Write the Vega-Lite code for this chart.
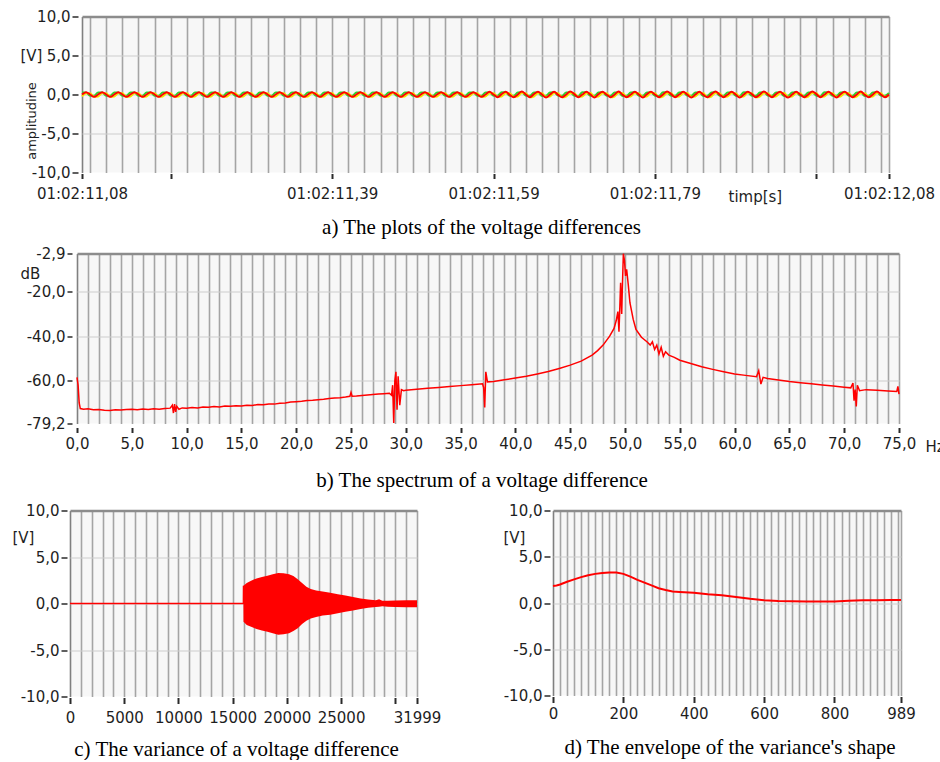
{
"$schema": "https://vega.github.io/schema/vega-lite/v6.json",
"padding": {"left": 12, "top": 9.5, "right": 0, "bottom": 0},
"background": "white",
"bounds": "flush",
"spacing": 0,
"config": {
  "view": {"stroke": null, "fill": "#f7f7f7"},
  "axis": {"labelFont": "DejaVu Sans", "labelFontSize": 15, "labelColor": "#1e1e1e", "titleFont": "DejaVu Sans", "titleFontSize": 15, "titleFontWeight": "normal", "titleColor": "#1e1e1e", "domain": false, "tickColor": "#2a2a2a", "labelOverlap": false, "labelFlush": false, "labelBound": false, "grid": true},
  "title": {"font": "Liberation Serif", "fontSize": 21, "fontWeight": "normal", "color": "#000000", "orient": "bottom", "anchor": "middle", "frame": "group"}
},
"vconcat": [
 {"hconcat": [
  {"width": 12, "height": 1, "data": {"values": []}, "mark": "point", "view": {"fill": null, "stroke": null}},
  {"width": 807, "height": 156,
   "title": {"text": "a) The plots of the voltage differences", "offset": 12, "dx": -4},
   "data": {"values": [
{"t":11.08,"r":0,"y":-0.25,"g":0.25},{"t":11.085,"r":0.3,"y":0.15,"g":0.25},{"t":11.09,"r":0,"y":0.15,"g":-0.15},{"t":11.095,"r":-0.3,"y":-0.3,"g":-0.15},
{"t":11.1,"r":0,"y":-0.25,"g":0.25},{"t":11.105,"r":0.3,"y":0.15,"g":0.25},{"t":11.11,"r":0,"y":0.15,"g":-0.15},{"t":11.115,"r":-0.3,"y":-0.3,"g":-0.15},
{"t":11.12,"r":0,"y":-0.25,"g":0.25},{"t":11.125,"r":0.3,"y":0.15,"g":0.25},{"t":11.13,"r":0,"y":0.15,"g":-0.15},{"t":11.135,"r":-0.3,"y":-0.3,"g":-0.15},
{"t":11.14,"r":0,"y":-0.25,"g":0.25},{"t":11.145,"r":0.3,"y":0.15,"g":0.25},{"t":11.15,"r":0,"y":0.15,"g":-0.15},{"t":11.155,"r":-0.3,"y":-0.3,"g":-0.15},
{"t":11.16,"r":0,"y":-0.25,"g":0.25},{"t":11.165,"r":0.3,"y":0.15,"g":0.25},{"t":11.17,"r":0,"y":0.15,"g":-0.15},{"t":11.175,"r":-0.3,"y":-0.3,"g":-0.15},
{"t":11.18,"r":0,"y":-0.25,"g":0.25},{"t":11.185,"r":0.3,"y":0.15,"g":0.25},{"t":11.19,"r":0,"y":0.15,"g":-0.15},{"t":11.195,"r":-0.3,"y":-0.3,"g":-0.15},
{"t":11.2,"r":0,"y":-0.25,"g":0.25},{"t":11.205,"r":0.3,"y":0.15,"g":0.25},{"t":11.21,"r":0,"y":0.15,"g":-0.15},{"t":11.215,"r":-0.3,"y":-0.3,"g":-0.15},
{"t":11.22,"r":0,"y":-0.25,"g":0.25},{"t":11.225,"r":0.3,"y":0.15,"g":0.25},{"t":11.23,"r":0,"y":0.15,"g":-0.15},{"t":11.235,"r":-0.3,"y":-0.3,"g":-0.15},
{"t":11.24,"r":0,"y":-0.25,"g":0.25},{"t":11.245,"r":0.3,"y":0.15,"g":0.25},{"t":11.25,"r":0,"y":0.15,"g":-0.15},{"t":11.255,"r":-0.3,"y":-0.3,"g":-0.15},
{"t":11.26,"r":0,"y":-0.25,"g":0.25},{"t":11.265,"r":0.3,"y":0.15,"g":0.25},{"t":11.27,"r":0,"y":0.15,"g":-0.15},{"t":11.275,"r":-0.3,"y":-0.3,"g":-0.15},
{"t":11.28,"r":0,"y":-0.25,"g":0.25},{"t":11.285,"r":0.3,"y":0.15,"g":0.25},{"t":11.29,"r":0,"y":0.15,"g":-0.15},{"t":11.295,"r":-0.3,"y":-0.3,"g":-0.15},
{"t":11.3,"r":0,"y":-0.25,"g":0.25},{"t":11.305,"r":0.3,"y":0.15,"g":0.25},{"t":11.31,"r":0,"y":0.15,"g":-0.15},{"t":11.315,"r":-0.3,"y":-0.3,"g":-0.15},
{"t":11.32,"r":0,"y":-0.25,"g":0.25},{"t":11.325,"r":0.3,"y":0.15,"g":0.25},{"t":11.33,"r":0,"y":0.15,"g":-0.15},{"t":11.335,"r":-0.3,"y":-0.3,"g":-0.15},
{"t":11.34,"r":0,"y":-0.25,"g":0.25},{"t":11.345,"r":0.3,"y":0.15,"g":0.25},{"t":11.35,"r":0,"y":0.15,"g":-0.15},{"t":11.355,"r":-0.3,"y":-0.3,"g":-0.15},
{"t":11.36,"r":0,"y":-0.25,"g":0.25},{"t":11.365,"r":0.3,"y":0.15,"g":0.25},{"t":11.37,"r":0,"y":0.15,"g":-0.15},{"t":11.375,"r":-0.3,"y":-0.3,"g":-0.15},
{"t":11.38,"r":0,"y":-0.25,"g":0.25},{"t":11.385,"r":0.3,"y":0.15,"g":0.25},{"t":11.39,"r":0,"y":0.15,"g":-0.15},{"t":11.395,"r":-0.3,"y":-0.3,"g":-0.15},
{"t":11.4,"r":0,"y":-0.25,"g":0.25},{"t":11.405,"r":0.3,"y":0.15,"g":0.25},{"t":11.41,"r":0,"y":0.15,"g":-0.15},{"t":11.415,"r":-0.3,"y":-0.3,"g":-0.15},
{"t":11.42,"r":0,"y":-0.25,"g":0.25},{"t":11.425,"r":0.3,"y":0.15,"g":0.25},{"t":11.43,"r":0,"y":0.15,"g":-0.15},{"t":11.435,"r":-0.3,"y":-0.3,"g":-0.15},
{"t":11.44,"r":0,"y":-0.25,"g":0.25},{"t":11.445,"r":0.3,"y":0.15,"g":0.25},{"t":11.45,"r":0,"y":0.15,"g":-0.15},{"t":11.455,"r":-0.3,"y":-0.3,"g":-0.15},
{"t":11.46,"r":0,"y":-0.25,"g":0.25},{"t":11.465,"r":0.3,"y":0.15,"g":0.25},{"t":11.47,"r":0,"y":0.15,"g":-0.15},{"t":11.475,"r":-0.3,"y":-0.3,"g":-0.15},
{"t":11.48,"r":0,"y":-0.25,"g":0.25},{"t":11.485,"r":0.3,"y":0.15,"g":0.25},{"t":11.49,"r":0,"y":0.15,"g":-0.15},{"t":11.495,"r":-0.3,"y":-0.3,"g":-0.15},
{"t":11.5,"r":0,"y":-0.25,"g":0.25},{"t":11.505,"r":0.3,"y":0.15,"g":0.25},{"t":11.51,"r":0,"y":0.15,"g":-0.15},{"t":11.515,"r":-0.3,"y":-0.3,"g":-0.15},
{"t":11.52,"r":0,"y":-0.25,"g":0.25},{"t":11.525,"r":0.3,"y":0.15,"g":0.25},{"t":11.53,"r":0,"y":0.15,"g":-0.15},{"t":11.535,"r":-0.3,"y":-0.3,"g":-0.15},
{"t":11.54,"r":0,"y":-0.25,"g":0.25},{"t":11.545,"r":0.3,"y":0.15,"g":0.25},{"t":11.55,"r":0,"y":0.15,"g":-0.15},{"t":11.555,"r":-0.3,"y":-0.3,"g":-0.15},
{"t":11.56,"r":0,"y":-0.25,"g":0.25},{"t":11.565,"r":0.3,"y":0.15,"g":0.25},{"t":11.57,"r":0,"y":0.15,"g":-0.15},{"t":11.575,"r":-0.3,"y":-0.3,"g":-0.15},
{"t":11.58,"r":0,"y":-0.25,"g":0.25},{"t":11.585,"r":0.35,"y":0.15,"g":0.25},{"t":11.59,"r":0,"y":0.15,"g":-0.15},{"t":11.595,"r":-0.35,"y":-0.3,"g":-0.15},
{"t":11.6,"r":0.05,"y":-0.25,"g":0.3},{"t":11.605,"r":0.35,"y":0.15,"g":0.25},{"t":11.61,"r":-0.05,"y":0.15,"g":-0.15},{"t":11.615,"r":-0.35,"y":-0.3,"g":-0.15},
{"t":11.62,"r":0,"y":-0.25,"g":0.25},{"t":11.625,"r":0.4,"y":0.2,"g":0.3},{"t":11.63,"r":0,"y":0.15,"g":-0.15},{"t":11.635,"r":-0.35,"y":-0.35,"g":-0.15},
{"t":11.64,"r":0.05,"y":-0.25,"g":0.25},{"t":11.645,"r":0.35,"y":0.15,"g":0.25},{"t":11.65,"r":0,"y":0.15,"g":-0.2},{"t":11.655,"r":-0.4,"y":-0.3,"g":-0.15},
{"t":11.66,"r":0,"y":-0.25,"g":0.25},{"t":11.665,"r":0.35,"y":0.2,"g":0.3},{"t":11.67,"r":-0.05,"y":0.15,"g":-0.15},{"t":11.675,"r":-0.35,"y":-0.35,"g":-0.15},
{"t":11.68,"r":0,"y":-0.25,"g":0.25},{"t":11.685,"r":0.4,"y":0.15,"g":0.25},{"t":11.69,"r":0.05,"y":0.15,"g":-0.15},{"t":11.695,"r":-0.35,"y":-0.3,"g":-0.2},
{"t":11.7,"r":0,"y":-0.25,"g":0.3},{"t":11.705,"r":0.35,"y":0.15,"g":0.25},{"t":11.71,"r":0,"y":0.2,"g":-0.15},{"t":11.715,"r":-0.4,"y":-0.3,"g":-0.15},
{"t":11.72,"r":0.05,"y":-0.25,"g":0.25},{"t":11.725,"r":0.35,"y":0.15,"g":0.3},{"t":11.73,"r":0,"y":0.15,"g":-0.15},{"t":11.735,"r":-0.35,"y":-0.35,"g":-0.15},
{"t":11.74,"r":0,"y":-0.25,"g":0.25},{"t":11.745,"r":0.4,"y":0.2,"g":0.25},{"t":11.75,"r":-0.05,"y":0.15,"g":-0.2},{"t":11.755,"r":-0.35,"y":-0.3,"g":-0.15},
{"t":11.76,"r":0,"y":-0.25,"g":0.25},{"t":11.765,"r":0.35,"y":0.15,"g":0.3},{"t":11.77,"r":0,"y":0.15,"g":-0.15},{"t":11.775,"r":-0.4,"y":-0.3,"g":-0.15},
{"t":11.78,"r":0.05,"y":-0.25,"g":0.25},{"t":11.785,"r":0.35,"y":0.2,"g":0.25},{"t":11.79,"r":0,"y":0.15,"g":-0.15},{"t":11.795,"r":-0.35,"y":-0.35,"g":-0.2},
{"t":11.8,"r":0,"y":-0.25,"g":0.3},{"t":11.805,"r":0.4,"y":0.15,"g":0.25},{"t":11.81,"r":0.05,"y":0.15,"g":-0.15},{"t":11.815,"r":-0.35,"y":-0.3,"g":-0.15},
{"t":11.82,"r":0,"y":-0.25,"g":0.25},{"t":11.825,"r":0.35,"y":0.15,"g":0.3},{"t":11.83,"r":0,"y":0.2,"g":-0.15},{"t":11.835,"r":-0.4,"y":-0.3,"g":-0.15},
{"t":11.84,"r":0,"y":-0.25,"g":0.25},{"t":11.845,"r":0.35,"y":0.15,"g":0.25},{"t":11.85,"r":-0.05,"y":0.15,"g":-0.2},{"t":11.855,"r":-0.35,"y":-0.35,"g":-0.15},
{"t":11.86,"r":0.05,"y":-0.25,"g":0.25},{"t":11.865,"r":0.4,"y":0.2,"g":0.3},{"t":11.87,"r":0,"y":0.15,"g":-0.15},{"t":11.875,"r":-0.35,"y":-0.3,"g":-0.15},
{"t":11.88,"r":0,"y":-0.25,"g":0.25},{"t":11.885,"r":0.35,"y":0.15,"g":0.25},{"t":11.89,"r":0,"y":0.15,"g":-0.15},{"t":11.895,"r":-0.4,"y":-0.3,"g":-0.2},
{"t":11.9,"r":0,"y":-0.25,"g":0.3},{"t":11.905,"r":0.35,"y":0.2,"g":0.25},{"t":11.91,"r":0.05,"y":0.15,"g":-0.15},{"t":11.915,"r":-0.35,"y":-0.35,"g":-0.15},
{"t":11.92,"r":0,"y":-0.25,"g":0.25},{"t":11.925,"r":0.4,"y":0.15,"g":0.3},{"t":11.93,"r":0,"y":0.15,"g":-0.15},{"t":11.935,"r":-0.35,"y":-0.3,"g":-0.15},
{"t":11.94,"r":0.05,"y":-0.25,"g":0.25},{"t":11.945,"r":0.35,"y":0.15,"g":0.25},{"t":11.95,"r":-0.05,"y":0.2,"g":-0.2},{"t":11.955,"r":-0.4,"y":-0.3,"g":-0.15},
{"t":11.96,"r":0,"y":-0.25,"g":0.25},{"t":11.965,"r":0.35,"y":0.15,"g":0.3},{"t":11.97,"r":0,"y":0.15,"g":-0.15},{"t":11.975,"r":-0.35,"y":-0.35,"g":-0.15},
{"t":11.98,"r":0,"y":-0.25,"g":0.25},{"t":11.985,"r":0.4,"y":0.2,"g":0.25},{"t":11.99,"r":0.05,"y":0.15,"g":-0.15},{"t":11.995,"r":-0.35,"y":-0.3,"g":-0.2},
{"t":12,"r":0,"y":-0.25,"g":0.3},{"t":12.005,"r":0.35,"y":0.15,"g":0.25},{"t":12.01,"r":0,"y":0.15,"g":-0.15},{"t":12.015,"r":-0.4,"y":-0.3,"g":-0.15},
{"t":12.02,"r":0.05,"y":-0.25,"g":0.25},{"t":12.025,"r":0.35,"y":0.15,"g":0.3},{"t":12.03,"r":0,"y":0.2,"g":-0.15},{"t":12.035,"r":-0.35,"y":-0.35,"g":-0.15},
{"t":12.04,"r":0,"y":-0.25,"g":0.25},{"t":12.045,"r":0.4,"y":0.15,"g":0.25},{"t":12.05,"r":-0.05,"y":0.15,"g":-0.2},{"t":12.055,"r":-0.35,"y":-0.3,"g":-0.15},
{"t":12.06,"r":0,"y":-0.25,"g":0.25},{"t":12.065,"r":0.4,"y":0.2,"g":0.3},{"t":12.07,"r":0,"y":0.15,"g":-0.15},{"t":12.075,"r":-0.35,"y":-0.3,"g":-0.15},
{"t":12.08,"r":0,"y":-0.2,"g":0.2}
   ]},
   "transform": [{"fold": ["g", "y", "r"], "as": ["s", "v"]}],
   "resolve": {"axis": {"x": "independent", "y": "independent"}},
   "layer": [
    {"transform": [{"filter": "datum.s != 'r'"}],
     "mark": {"type": "line", "interpolate": "monotone", "strokeWidth": 2},
     "encoding": {
      "x": {"field": "t", "type": "quantitative", "scale": {"domain": [11.08, 12.08], "nice": false, "zero": false},
       "axis": {"orient": "bottom", "title": "timp[s]", "titleX": 646, "titleY": 23, "titleAlign": "left", "titleBaseline": "middle", "titleAngle": 0,
        "values": [11.08,11.09,11.11,11.13,11.15,11.17,11.19,11.21,11.23,11.25,11.27,11.29,11.31,11.33,11.35,11.37,11.39,11.41,11.43,11.45,11.47,11.49,11.51,11.53,11.55,11.57,11.59,11.61,11.63,11.65,11.67,11.69,11.71,11.73,11.75,11.77,11.79,11.81,11.83,11.85,11.87,11.89,11.91,11.93,11.95,11.97,11.99,12.01,12.03,12.05,12.07,12.08],
        "gridColor": {"condition": {"test": "datum.value == 11.08", "value": "#808080"}, "value": "#a4a4a4"},
        "gridWidth": 1.6,
        "tickOpacity": {"condition": {"test": "indexof([11.08,11.19,11.39,11.59,11.79,11.99,12.08], datum.value) >= 0", "value": 1}, "value": 0},
        "tickSize": 5, "tickWidth": 2, "offset": 1, "labelPadding": 8,
        "labelExpr": "indexof([11.08,11.39,11.59,11.79,12.08], datum.value) >= 0 ? '01:02:' + replace(format(datum.value, '.2f'), '.', ',') : ''"}},
      "y": {"field": "v", "type": "quantitative", "scale": {"domain": [-10, 10], "nice": false},
       "axis": {"orient": "left", "values": [-10, -5, 0, 5, 10], "title": "[V]", "titleAngle": 0, "titleX": -58, "titleY": 39, "titleAlign": "left", "titleBaseline": "middle",
        "labelExpr": "replace(replace(format(datum.value, '.1f'), '.', ','), '\u2212', '-')",
        "gridColor": {"condition": {"test": "datum.value == 10", "value": "#8c8c8c"}, "value": "#cdcdcd"},
        "gridWidth": {"condition": {"test": "datum.value == 10", "value": 2.5}, "value": 1.2},
        "gridOpacity": {"condition": {"test": "datum.value == -10", "value": 0}, "value": 1},
        "tickSize": 6, "tickWidth": 1.5, "offset": 4, "labelPadding": 2}},
      "color": {"field": "s", "type": "nominal", "scale": {"domain": ["g", "y"], "range": ["#2fd32f", "#f4e600"]}, "legend": null}}},
    {"transform": [{"filter": "datum.s == 'r'"}],
     "mark": {"type": "line", "interpolate": "monotone", "strokeWidth": 2, "color": "#ff0000"},
     "encoding": {"x": {"field": "t", "type": "quantitative", "axis": null}, "y": {"field": "v", "type": "quantitative", "axis": null}}},
    {"data": {"values": [{"lab": "amplitudine"}]},
     "mark": {"type": "text", "angle": 270, "font": "DejaVu Sans", "fontSize": 13, "color": "#1e1e1e", "dy": -50, "align": "center", "baseline": "middle"},
     "encoding": {"x": {"datum": 11.08, "type": "quantitative", "axis": null}, "y": {"datum": -3.4, "type": "quantitative", "axis": null}, "text": {"field": "lab", "type": "nominal"}}}
   ]
  }
 ], "spacing": 0, "bounds": "flush"},
 {"width": 1, "height": 237, "data": {"values": []}, "mark": "point", "view": {"fill": null, "stroke": null}},
 {"hconcat": [
  {"width": 7, "height": 1, "data": {"values": []}, "mark": "point", "view": {"fill": null, "stroke": null}},
  {"width": 822, "height": 170,
   "title": {"text": "b) The spectrum of a voltage difference", "offset": 15, "dx": -6},
   "data": {"values": [
{"f":0,"db":-58.5},{"f":0.1,"db":-62},{"f":0.2,"db":-70},{"f":0.3,"db":-72.5},{"f":0.6,"db":-72.8},{"f":1,"db":-72.6},{"f":1.5,"db":-73},{"f":2,"db":-72.9},{"f":2.5,"db":-73.3},{"f":3,"db":-73.4},{"f":3.5,"db":-73},{"f":4,"db":-73.1},{"f":4.5,"db":-72.9},{"f":5,"db":-72.8},{"f":5.5,"db":-73},{"f":6,"db":-72.7},{"f":6.5,"db":-72.9},{"f":7,"db":-72.6},{"f":7.5,"db":-72.8},{"f":8,"db":-72.5},{"f":8.5,"db":-72.3},{"f":8.7,"db":-71},{"f":8.8,"db":-74.5},{"f":8.9,"db":-70.5},{"f":9,"db":-74},{"f":9.1,"db":-71.5},{"f":9.3,"db":-72.8},{"f":9.6,"db":-72.2},{"f":10,"db":-72.4},{"f":10.5,"db":-72},{"f":11,"db":-72.2},{"f":11.5,"db":-71.8},{"f":12,"db":-71.9},{"f":12.5,"db":-71.6},{"f":13,"db":-71.8},{"f":13.5,"db":-71.4},{"f":14,"db":-71.5},{"f":14.5,"db":-71.2},{"f":15,"db":-71.3},{"f":15.5,"db":-71},{"f":16,"db":-71.1},{"f":16.5,"db":-70.7},{"f":17,"db":-70.8},{"f":17.5,"db":-70.4},{"f":18,"db":-70.5},{"f":18.5,"db":-70.1},{"f":19,"db":-70},{"f":19.5,"db":-69.6},{"f":20,"db":-69.4},{"f":20.5,"db":-69.2},{"f":21,"db":-68.9},{"f":21.5,"db":-68.8},{"f":22,"db":-68.5},{"f":22.5,"db":-68.3},{"f":23,"db":-68},{"f":23.5,"db":-67.8},{"f":24,"db":-67.6},{"f":24.5,"db":-67.3},{"f":24.9,"db":-67},{"f":25,"db":-65.3},{"f":25.1,"db":-67},{"f":25.5,"db":-66.9},{"f":26,"db":-66.6},{"f":26.5,"db":-66.4},{"f":27,"db":-66.2},{"f":27.5,"db":-66},{"f":28,"db":-65.8},{"f":28.5,"db":-65.6},{"f":28.7,"db":-66.5},{"f":28.8,"db":-62},{"f":28.9,"db":-79},{"f":29,"db":-60},{"f":29.1,"db":-56},{"f":29.2,"db":-73},{"f":29.3,"db":-58},{"f":29.45,"db":-71},{"f":29.6,"db":-64},{"f":29.8,"db":-64.5},{"f":30,"db":-64.3},{"f":30.5,"db":-64},{"f":31,"db":-63.8},{"f":32,"db":-63.4},{"f":33,"db":-63},{"f":34,"db":-62.6},{"f":35,"db":-62.2},{"f":36,"db":-61.8},{"f":37,"db":-61.4},{"f":37.1,"db":-63},{"f":37.2,"db":-72},{"f":37.3,"db":-56},{"f":37.45,"db":-60.5},{"f":38,"db":-60.3},{"f":39,"db":-59.6},{"f":40,"db":-58.8},{"f":41,"db":-58},{"f":42,"db":-57},{"f":43,"db":-55.9},{"f":44,"db":-54.5},{"f":45,"db":-53},{"f":46,"db":-51.2},{"f":47,"db":-48.5},{"f":47.5,"db":-46.5},{"f":48,"db":-44},{"f":48.6,"db":-40},{"f":49,"db":-36.5},{"f":49.2,"db":-33},{"f":49.35,"db":-29},{"f":49.45,"db":-38},{"f":49.5,"db":-31},{"f":49.6,"db":-16},{"f":49.7,"db":-30},{"f":49.75,"db":-20},{"f":49.85,"db":-3},{"f":49.95,"db":-6},{"f":50.05,"db":-13},{"f":50.15,"db":-10},{"f":50.3,"db":-17},{"f":50.45,"db":-25},{"f":50.75,"db":-32.5},{"f":51,"db":-37},{"f":51.5,"db":-40.5},{"f":52,"db":-42.5},{"f":52.3,"db":-44},{"f":52.5,"db":-42.5},{"f":52.7,"db":-46},{"f":52.9,"db":-44},{"f":53.1,"db":-48},{"f":53.3,"db":-45},{"f":53.5,"db":-49},{"f":53.7,"db":-47},{"f":54,"db":-48.5},{"f":54.5,"db":-49.5},{"f":55,"db":-50.8},{"f":56,"db":-52.3},{"f":57,"db":-53.7},{"f":58,"db":-54.9},{"f":59,"db":-56},{"f":60,"db":-57},{"f":61,"db":-57.6},{"f":62,"db":-58.2},{"f":62.2,"db":-55.5},{"f":62.4,"db":-61.5},{"f":62.6,"db":-58.5},{"f":63,"db":-59},{"f":64,"db":-59.7},{"f":65,"db":-60.4},{"f":66,"db":-60.9},{"f":67,"db":-61.4},{"f":68,"db":-61.9},{"f":69,"db":-62.4},{"f":70,"db":-62.9},{"f":70.6,"db":-63.2},{"f":70.8,"db":-61},{"f":70.9,"db":-69},{"f":71,"db":-64},{"f":71.1,"db":-71.5},{"f":71.2,"db":-62},{"f":71.4,"db":-64.5},{"f":72,"db":-64},{"f":73,"db":-64.3},{"f":74,"db":-64.6},{"f":74.8,"db":-64.8},{"f":74.9,"db":-62.5},{"f":75,"db":-66}
   ]},
   "mark": {"type": "line", "color": "#ff0000", "strokeWidth": 1.5},
   "encoding": {
    "x": {"field": "f", "type": "quantitative", "scale": {"domain": [0, 75], "nice": false},
     "axis": {"title": "Hz", "titleX": 848, "titleY": 19, "titleAlign": "left", "titleBaseline": "middle", "titleAngle": 0,
      "values": [0,1,2,3,4,5,6,7,8,9,10,11,12,13,14,15,16,17,18,19,20,21,22,23,24,25,26,27,28,29,30,31,32,33,34,35,36,37,38,39,40,41,42,43,44,45,46,47,48,49,50,51,52,53,54,55,56,57,58,59,60,61,62,63,64,65,66,67,68,69,70,71,72,73,74,75],
      "gridColor": {"condition": {"test": "datum.value == 0", "value": "#808080"}, "value": "#a4a4a4"},
      "gridWidth": 1.6,
      "tickOpacity": {"condition": {"test": "datum.value % 5 == 0", "value": 1}, "value": 0},
      "tickSize": 5, "tickWidth": 2, "offset": 4, "labelPadding": 4,
      "labelExpr": "datum.value % 5 == 0 ? replace(format(datum.value, '.1f'), '.', ',') : ''"}},
    "y": {"field": "db", "type": "quantitative", "scale": {"domain": [-79.2, -2.9], "nice": false, "zero": false},
     "axis": {"values": [-79.2, -60, -40, -20, -2.9], "title": "dB", "titleAngle": 0, "titleX": -52, "titleY": 20, "titleAlign": "left", "titleBaseline": "middle",
      "labelExpr": "replace(replace(format(datum.value, '.1f'), '.', ','), '\u2212', '-')",
      "gridColor": {"condition": {"test": "datum.value == -2.9", "value": "#8c8c8c"}, "value": "#cdcdcd"},
      "gridWidth": {"condition": {"test": "datum.value == -2.9", "value": 2.5}, "value": 1.2},
      "gridOpacity": {"condition": {"test": "datum.value == -79.2", "value": 0}, "value": 1},
      "tickSize": 5, "tickWidth": 1.5, "offset": 5, "labelPadding": 2}}
   }
  }
 ], "spacing": 0, "bounds": "flush"},
 {"width": 1, "height": 257, "data": {"values": []}, "mark": "point", "view": {"fill": null, "stroke": null}},
 {"hconcat": [
  {"width": 347, "height": 186,
   "title": {"text": "c) The variance of a voltage difference", "offset": 13, "dx": -7},
   "data": {"values": [
{"i":0,"hi":0,"lo":0},{"i":15990,"hi":0,"lo":0},{"i":16000,"hi":1.9,"lo":-1.95},{"i":16300,"hi":2.2,"lo":-2.3},{"i":16700,"hi":2.45,"lo":-2.5},{"i":17200,"hi":2.7,"lo":-2.75},{"i":17700,"hi":2.85,"lo":-2.9},{"i":18200,"hi":2.98,"lo":-3.05},{"i":18700,"hi":3.15,"lo":-3.2},{"i":19200,"hi":3.28,"lo":-3.35},{"i":19700,"hi":3.25,"lo":-3.3},{"i":20200,"hi":3.15,"lo":-3.2},{"i":20600,"hi":2.95,"lo":-2.95},{"i":21000,"hi":2.6,"lo":-2.65},{"i":21400,"hi":2.2,"lo":-2.2},{"i":21800,"hi":1.8,"lo":-1.85},{"i":22200,"hi":1.55,"lo":-1.6},{"i":22700,"hi":1.4,"lo":-1.45},{"i":23300,"hi":1.3,"lo":-1.3},{"i":24000,"hi":1.15,"lo":-1.2},{"i":24700,"hi":1.0,"lo":-1.05},{"i":25400,"hi":0.85,"lo":-0.9},{"i":26100,"hi":0.7,"lo":-0.75},{"i":26800,"hi":0.55,"lo":-0.6},{"i":27500,"hi":0.42,"lo":-0.45},{"i":28200,"hi":0.35,"lo":-0.38},{"i":28500,"hi":0.45,"lo":-0.35},{"i":28800,"hi":0.3,"lo":-0.3},{"i":29300,"hi":0.3,"lo":-0.35},{"i":30000,"hi":0.33,"lo":-0.38},{"i":31000,"hi":0.35,"lo":-0.4},{"i":31999,"hi":0.35,"lo":-0.4}
   ]},
   "encoding": {
    "x": {"field": "i", "type": "quantitative", "scale": {"domain": [0, 31999], "nice": false},
     "axis": {"title": null,
      "values": [0,1000,2000,3000,4000,5000,6000,7000,8000,9000,10000,11000,12000,13000,14000,15000,16000,17000,18000,19000,20000,21000,22000,23000,24000,25000,26000,27000,28000,29000,30000,31000,31999],
      "gridColor": {"condition": {"test": "datum.value == 0", "value": "#808080"}, "value": "#a4a4a4"},
      "gridWidth": 1.6,
      "tickOpacity": {"condition": {"test": "indexof([0,5000,10000,15000,20000,25000,30000,31999], datum.value) >= 0", "value": 1}, "value": 0},
      "tickSize": 6, "tickWidth": 2, "offset": 1, "labelPadding": 7,
      "labelExpr": "indexof([0,5000,10000,15000,20000,25000,31999], datum.value) >= 0 ? format(datum.value, 'd') : ''"}},
    "y": {"field": "hi", "type": "quantitative", "scale": {"domain": [-10, 10], "nice": false},
     "axis": {"values": [-10, -5, 0, 5, 10], "title": "[V]", "titleAngle": 0, "titleX": -55, "titleY": 27, "titleAlign": "left", "titleBaseline": "middle",
      "labelExpr": "replace(replace(format(datum.value, '.1f'), '.', ','), '\u2212', '-')",
      "gridColor": {"condition": {"test": "datum.value == 10", "value": "#8c8c8c"}, "value": "#cdcdcd"},
      "gridWidth": {"condition": {"test": "datum.value == 10", "value": 2.5}, "value": 1.2},
      "gridOpacity": {"condition": {"test": "datum.value == -10", "value": 0}, "value": 1},
      "tickSize": 6, "tickWidth": 1.5, "offset": 3, "labelPadding": 2}}
   },
   "layer": [
    {"mark": {"type": "area", "color": "#ff0000"}, "encoding": {"y2": {"field": "lo"}}},
    {"transform": [{"filter": "datum.i <= 16000"}], "mark": {"type": "line", "color": "#ff0000", "strokeWidth": 1.5}}
   ]
  },
  {"width": 348, "height": 185,
   "title": {"text": "d) The envelope of the variance's shape", "offset": 15, "dx": 3},
   "data": {"values": [
{"x":0,"v":1.85},{"x":10,"v":1.9},{"x":20,"v":2.0},{"x":40,"v":2.3},{"x":60,"v":2.55},{"x":80,"v":2.8},{"x":100,"v":3.0},{"x":120,"v":3.15},{"x":140,"v":3.25},{"x":160,"v":3.3},{"x":180,"v":3.3},{"x":200,"v":3.15},{"x":220,"v":2.85},{"x":240,"v":2.5},{"x":260,"v":2.2},{"x":280,"v":1.9},{"x":300,"v":1.6},{"x":320,"v":1.4},{"x":340,"v":1.25},{"x":360,"v":1.2},{"x":400,"v":1.1},{"x":440,"v":0.95},{"x":480,"v":0.85},{"x":520,"v":0.65},{"x":560,"v":0.45},{"x":600,"v":0.3},{"x":640,"v":0.22},{"x":680,"v":0.18},{"x":720,"v":0.17},{"x":760,"v":0.15},{"x":800,"v":0.16},{"x":840,"v":0.25},{"x":880,"v":0.3},{"x":920,"v":0.3},{"x":960,"v":0.33},{"x":989,"v":0.33}
   ]},
   "mark": {"type": "line", "color": "#ff0000", "strokeWidth": 2},
   "encoding": {
    "x": {"field": "x", "type": "quantitative", "scale": {"domain": [0, 989], "nice": false},
     "axis": {"title": null,
      "values": [0,20,40,60,80,100,120,140,160,180,200,220,240,260,280,300,320,340,360,380,400,420,440,460,480,500,520,540,560,580,600,620,640,660,680,700,720,740,760,780,800,820,840,860,880,900,920,940,960,980,989],
      "gridColor": {"condition": {"test": "datum.value == 0", "value": "#808080"}, "value": "#a4a4a4"},
      "gridWidth": 1.6,
      "tickOpacity": {"condition": {"test": "indexof([0,200,400,600,800,989], datum.value) >= 0", "value": 1}, "value": 0},
      "tickSize": 6, "tickWidth": 2, "offset": 1, "labelPadding": 4,
      "labelExpr": "indexof([0,200,400,600,800,989], datum.value) >= 0 ? format(datum.value, 'd') : ''"}},
    "y": {"field": "v", "type": "quantitative", "scale": {"domain": [-10, 10], "nice": false},
     "axis": {"values": [-10, -5, 0, 5, 10], "title": "[V]", "titleAngle": 0, "titleX": -47, "titleY": 27, "titleAlign": "left", "titleBaseline": "middle",
      "labelExpr": "replace(replace(format(datum.value, '.1f'), '.', ','), '\u2212', '-')",
      "gridColor": {"condition": {"test": "datum.value == 10", "value": "#8c8c8c"}, "value": "#cdcdcd"},
      "gridWidth": {"condition": {"test": "datum.value == 10", "value": 2.5}, "value": 1.2},
      "gridOpacity": {"condition": {"test": "datum.value == -10", "value": 0}, "value": 1},
      "tickSize": 6, "tickWidth": 1.5, "offset": 3, "labelPadding": 2}}
   }
  }
 ], "spacing": 136, "bounds": "flush"}
]
}
